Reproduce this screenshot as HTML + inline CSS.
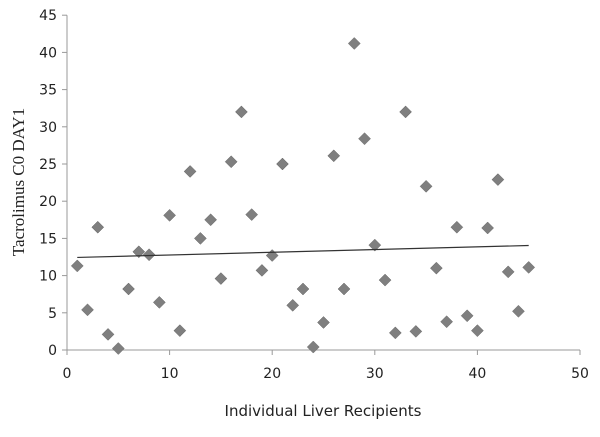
<!DOCTYPE html>
<html><head><meta charset="utf-8"><style>
body{margin:0;background:#fff}
svg text{font-family:"DejaVu Sans","Liberation Sans",sans-serif;fill:#222}
</style></head><body>
<svg id="chart" width="600" height="432" viewBox="0 0 600 432" xmlns="http://www.w3.org/2000/svg"></svg>
<script>
const xValues=[1,2,3,4,5,6,7,8,9,10,11,12,13,14,15,16,17,18,19,20,21,22,23,24,25,26,27,28,29,30,31,32,33,34,35,36,37,38,39,40,41,42,43,44,45];
const yValues=[11.3,5.4,16.5,2.1,0.2,8.2,13.2,12.8,6.4,18.1,2.6,24,15,17.5,9.6,25.3,32,18.2,10.7,12.7,25,6,8.2,0.4,3.7,26.1,8.2,41.2,28.4,14.1,9.4,2.3,32,2.5,22,11,3.8,16.5,4.6,2.6,16.4,22.9,10.5,5.2,11.1];
const xTicks=[0,10,20,30,40,50];
const yTicks=[0,5,10,15,20,25,30,35,40,45];
const NS="http://www.w3.org/2000/svg",svg=document.getElementById('chart');
const X=v=>67+v*10.26, Y=v=>350-v*7.44;
function mk(t,a,p){const e=document.createElementNS(NS,t);for(const k in a)e.setAttribute(k,a[k]);(p||svg).appendChild(e);return e;}
let ya=mk('line',{x1:67,y1:Y(45),x2:67,y2:350,stroke:'#999','stroke-width':1});


let xa=mk('line',{x1:67,y1:350,x2:X(50),y2:350,stroke:'#999','stroke-width':1});


yTicks.forEach(t=>{
 mk('line',{x1:62,y1:Y(t),x2:67,y2:Y(t),stroke:'#999'});
 const e=mk('text',{x:57,y:Y(t)+5,'text-anchor':'end','font-size':14});e.textContent=t;
 
 
});
xTicks.forEach(t=>{
 mk('line',{x1:X(t),y1:350,x2:X(t),y2:355,stroke:'#999'});
 const e=mk('text',{x:X(t),y:378,'text-anchor':'middle','font-size':14});e.textContent=t;
 
 
});
xValues.forEach((x,i)=>{
 const cx=X(x),cy=Y(yValues[i]),r=6;
 const d=mk('polygon',{points:`${cx},${cy-r} ${cx+r},${cy} ${cx},${cy+r} ${cx-r},${cy}`,fill:'#7f7f7f',stroke:'#666','stroke-width':0.5});
 
 
});
const n=xValues.length,mx=xValues.reduce((a,b)=>a+b)/n,my=yValues.reduce((a,b)=>a+b)/n;
let sxy=0,sxx=0;xValues.forEach((x,i)=>{sxy+=(x-mx)*(yValues[i]-my);sxx+=(x-mx)*(x-mx);});
const m=sxy/sxx,b=my-m*mx,x0=xValues[0],x1=xValues[n-1];
const tl=mk('line',{x1:X(x0),y1:Y(m*x0+b),x2:X(x1),y2:Y(m*x1+b),stroke:'#333','stroke-width':1.2});


const xt=mk('text',{x:323,y:416,'text-anchor':'middle','font-size':15});xt.textContent='Individual Liver Recipients';


const yt=mk('text',{x:0,y:0,'text-anchor':'middle','font-size':17,style:'font-family:"Liberation Serif",serif',transform:'translate(24,182) rotate(-90)'});yt.textContent='Tacrolimus C0 DAY1';


</script>
</body></html>
